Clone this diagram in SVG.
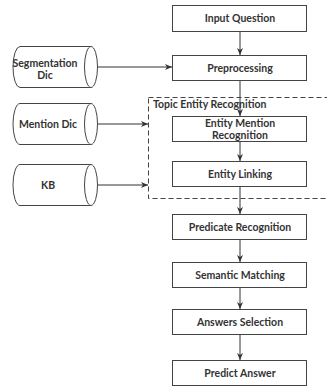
<svg xmlns="http://www.w3.org/2000/svg" width="327" height="387" viewBox="0 0 327 387">
<defs>
<marker id="ah" markerWidth="8" markerHeight="8" refX="7" refY="4" orient="auto" markerUnits="userSpaceOnUse">
<path d="M0,1 L7,4 L0,7 L2,4 Z" fill="#333"/>
</marker>
<style>
.box{fill:#fff;stroke:#444;stroke-width:1}
.cyl{fill:#fff;stroke:#444;stroke-width:1}
.t{font-family:Lato,"Open Sans",sans-serif;font-size:10.5px;font-weight:bold;fill:#333;text-anchor:middle}
.edge{stroke:#333;stroke-width:1;fill:none;marker-end:url(#ah)}
.dash{fill:none;stroke:#444;stroke-width:1;stroke-dasharray:5,3}
</style>
</defs>
<rect width="327" height="387" fill="#fff"/>
<g id="ter">
<rect class="dash" x="148.5" y="97.5" width="190" height="101"/>
<text class="t" x="153" y="108" style="text-anchor:start">Topic Entity Recognition</text>
</g>
<g id="connectors">
<line class="edge" x1="240" y1="32" x2="240" y2="55"/>
<line class="edge" x1="240" y1="81" x2="240" y2="116"/>
<line class="edge" x1="240" y1="142" x2="240" y2="161"/>
<line class="edge" x1="240" y1="187" x2="240" y2="214"/>
<line class="edge" x1="240" y1="240" x2="240" y2="262"/>
<line class="edge" x1="240" y1="288" x2="240" y2="309"/>
<line class="edge" x1="240" y1="335" x2="240" y2="360"/>
<line class="edge" x1="98" y1="67" x2="172" y2="67"/>
<line class="edge" x1="98" y1="124" x2="148" y2="124"/>
<line class="edge" x1="98" y1="185" x2="148" y2="185"/>
</g>
<g id="input"><rect class="box" x="172.5" y="5.5" width="134" height="26"/><text class="t" x="240" y="22">Input Question</text></g>
<g id="pre"><rect class="box" x="172.5" y="55.5" width="134" height="25"/><text class="t" x="240" y="71.5">Preprocessing</text></g>
<g id="emr"><rect class="box" x="172.5" y="116.5" width="134" height="25"/><text class="t" x="240" y="127">Entity Mention</text><text class="t" x="240" y="138.5">Recognition</text></g>
<g id="el"><rect class="box" x="172.5" y="161.5" width="134" height="25"/><text class="t" x="240" y="177.5">Entity Linking</text></g>
<g id="pr"><rect class="box" x="172.5" y="214.5" width="134" height="25"/><text class="t" x="240" y="230.5">Predicate Recognition</text></g>
<g id="sm"><rect class="box" x="172.5" y="262.5" width="134" height="25"/><text class="t" x="240" y="278.5">Semantic Matching</text></g>
<g id="as"><rect class="box" x="172.5" y="309.5" width="134" height="25"/><text class="t" x="240" y="325.5">Answers Selection</text></g>
<g id="pa"><rect class="box" x="172.5" y="360.5" width="134" height="25"/><text class="t" x="240" y="376.5">Predict Answer</text></g>
<g id="seg">
<path class="cyl" d="M91,46.5 L20,46.5 A7,20.5 0 0 0 20,87.5 L91,87.5"/>
<ellipse class="cyl" cx="91" cy="67" rx="6.5" ry="20.5"/>
<text class="t" x="45" y="66.5">Segmentation</text><text class="t" x="45" y="78.5">Dic</text>
</g>
<g id="men">
<path class="cyl" d="M91,103.5 L20,103.5 A7,20.5 0 0 0 20,144.5 L91,144.5"/>
<ellipse class="cyl" cx="91" cy="124" rx="6.5" ry="20.5"/>
<text class="t" x="48" y="128">Mention Dic</text>
</g>
<g id="kb">
<path class="cyl" d="M91,164.5 L20,164.5 A7,20.5 0 0 0 20,205.5 L91,205.5"/>
<ellipse class="cyl" cx="91" cy="185" rx="6.5" ry="20.5"/>
<text class="t" x="48" y="189">KB</text>
</g>
</svg>
